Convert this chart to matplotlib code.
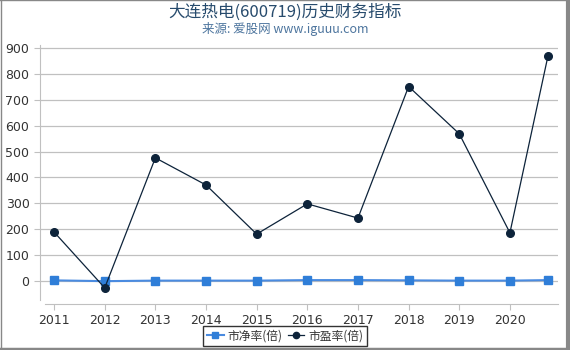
import matplotlib
matplotlib.use("Agg")
from matplotlib import pyplot as plt
from matplotlib.lines import Line2D

plt.rcParams['font.family'] = ['DejaVu Sans', 'Noto Sans CJK SC']

# fractional years (last point is a partial year)
years = [2011, 2012, 2013, 2014, 2015, 2016, 2017, 2018, 2019, 2020, 2020.75]
tick_years = [2011, 2012, 2013, 2014, 2015, 2016, 2017, 2018, 2019, 2020]
pb = [2, -1, 1, 1, 1, 3, 3, 2, 1, 1, 3]
pe = [189, -27, 476, 371, 181, 298, 243, 752, 569, 186, 869]

title = "大连热电(600719)历史财务指标"
subtitle = "来源: 爱股网 www.iguuu.com"
pb_label = "市净率(倍)"
pe_label = "市盈率(倍)"

fig = plt.figure(figsize=(5.7, 3.5), dpi=100)
ax = fig.add_axes([0.070, 0.131, 0.909, 0.740])

ax.plot(years, pb, color="#4a8be0", lw=1.5, marker="s", ms=5.5,
        mfc="#2f7ed8", mec="#2f7ed8", label=pb_label, zorder=3)
ax.plot(years, pe, color="#0d233a", lw=0.9, marker="o", ms=5.5,
        mfc="#0d233a", mec="#0d233a", label=pe_label, zorder=4)

ax.set_xlim(2010.72, 2020.95)
ax.set_ylim(-90, 912)
ax.set_xticks(tick_years)
ax.set_yticks(range(0, 901, 100))
ax.grid(axis="y", color="#c0c0c0", lw=0.9)
ax.set_axisbelow(True)

for s in ["top", "right"]:
    ax.spines[s].set_visible(False)
ax.spines["left"].set_color("#c0c0c0")
ax.spines["bottom"].set_color("#c0c0c0")
ax.spines["left"].set_bounds(-75, 912)
ax.spines["bottom"].set_bounds(2010.82, 2020.95)
ax.tick_params(axis="both", colors="#c0c0c0", labelcolor="#333333",
               labelsize=9, length=4)
ax.tick_params(axis="x", pad=3)

fig.text(0.5, 0.965, title, ha="center", va="center", fontsize=12,
         color="#274b6d", family=["Noto Sans CJK SC", "DejaVu Sans"])
fig.text(0.5, 0.917, subtitle, ha="center", va="center", fontsize=9,
         color="#4d759e", family=["Noto Sans CJK SC", "DejaVu Sans"])

handles = [
    Line2D([], [], color="#4a8be0", lw=1.5, marker="s", ms=4.5,
           mfc="#2f7ed8", mec="#2f7ed8"),
    Line2D([], [], color="#0d233a", lw=0.9, marker="o", ms=4.5,
           mfc="#0d233a", mec="#0d233a"),
]
leg = fig.legend(handles, [pb_label, pe_label], loc="center",
                 bbox_to_anchor=(0.5, 0.04), ncol=2, frameon=True,
                 fancybox=False, edgecolor="black",
                 handlelength=1.4, handletextpad=0.3, columnspacing=0.5,
                 borderpad=0.3, prop={"family": ["Noto Sans CJK SC", "DejaVu Sans"], "size": 8.5})
for t in leg.get_texts():
    t.set_color("#333333")

# outer frame of the picture
fig.add_artist(Line2D([0.001, 0.001], [0, 1], color="#888888", lw=1))
fig.add_artist(Line2D([0, 1], [0.999, 0.999], color="#888888", lw=1))
fig.add_artist(Line2D([0.996, 0.996], [0, 1], color="#888888", lw=3))
fig.add_artist(Line2D([0, 1], [0.004, 0.004], color="#888888", lw=2.5))

fig.savefig("out.png", dpi=100)
